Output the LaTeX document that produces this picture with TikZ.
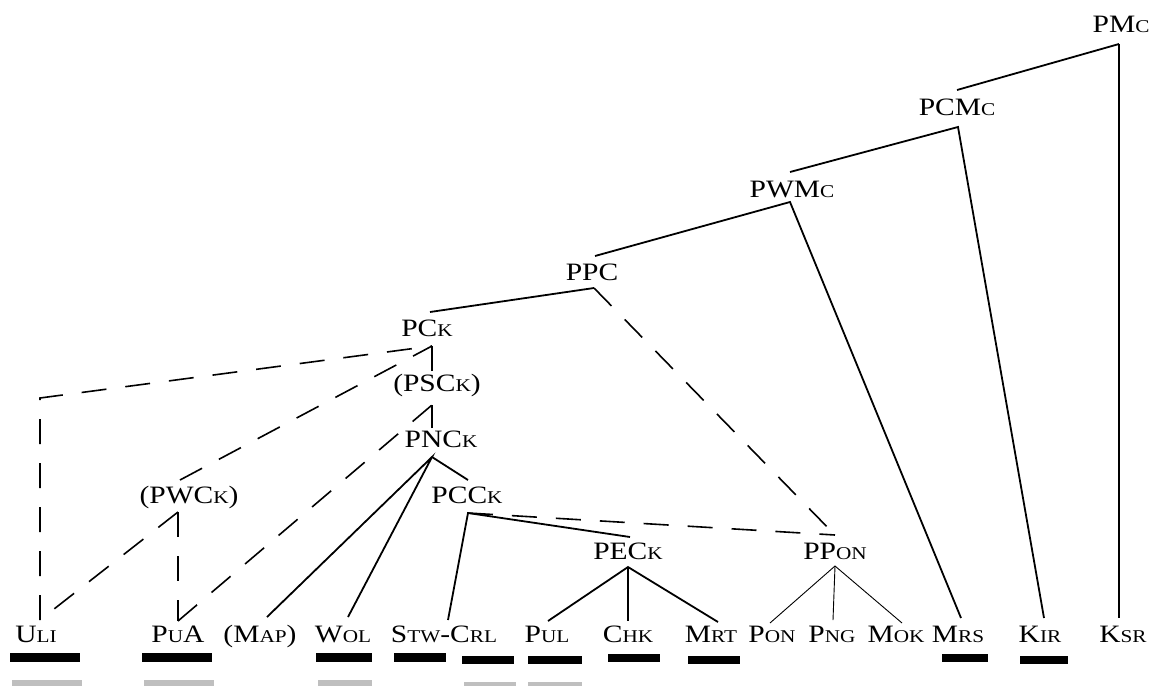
\documentclass[tikz,border=0pt]{standalone}
\usepackage{fontspec}
\setmainfont[FakeStretch=1.18]{Liberation Serif}
% small capitals built from a reduced upper-case size
\newcommand\smc[1]{{\fontsize{18}{18}\selectfont #1}}
\begin{document}
\begin{tikzpicture}[x=1pt,y=-1pt,
  lbl/.style={anchor=base, inner sep=0pt, font=\fontsize{25}{25}\selectfont},
  edge/.style={line width=1.8pt},
  thinedge/.style={line width=0.9pt},
  dashedge/.style={line width=1.6pt, dash pattern=on 25pt off 19pt},
  blackbar/.style={fill=black},
  greybar/.style={fill=black!25}]
\useasboundingbox (0,0) rectangle (1161,686);

% inner nodes
\node[lbl] (PMc)  at (1121,32)  {PM\smc{C}};
\node[lbl] (PCMc) at (957,115)  {PCM\smc{C}};
\node[lbl] (PWMc) at (792,197)  {PWM\smc{C}};
\node[lbl] (PPC)  at (592,280)  {PPC};
\node[lbl] (PCk)  at (427,336)  {PC\smc{K}};
\node[lbl] (PSCk) at (437,391)  {(PSC\smc{K})};
\node[lbl] (PNCk) at (441,447)  {PNC\smc{K}};
\node[lbl] (PWCk) at (189,503)  {(PWC\smc{K})};
\node[lbl] (PCCk) at (467,503)  {PCC\smc{K}};
\node[lbl] (PECk) at (628,559)  {PEC\smc{K}};
\node[lbl] (PPon) at (835,559)  {PP\smc{ON}};

% languages
\node[lbl] (Uli) at (36,642)   {U\smc{LI}};
\node[lbl] (PuA) at (178,642)  {P\smc{U}A};
\node[lbl] (Map) at (260,642)  {(M\smc{AP})};
\node[lbl] (Wol) at (343,642)  {W\smc{OL}};
\node[lbl] (Stw) at (444,642)  {S\smc{TW}-C\smc{RL}};
\node[lbl] (Pul) at (547,642)  {P\smc{UL}};
\node[lbl] (Chk) at (628,642)  {C\smc{HK}};
\node[lbl] (Mrt) at (711,642)  {M\smc{RT}};
\node[lbl] (Pon) at (772,642)  {P\smc{ON}};
\node[lbl] (Png) at (832,642)  {P\smc{NG}};
\node[lbl] (Mok) at (896,642)  {M\smc{OK}};
\node[lbl] (Mrs) at (958,642)  {M\smc{RS}};
\node[lbl] (Kir) at (1040,642) {K\smc{IR}};
\node[lbl] (Ksr) at (1123,642) {K\smc{SR}};

% attachment points above and below the labels
\coordinate (PMc-b)  at (1119,44);
\coordinate (PCMc-t) at (957,90);
\coordinate (PCMc-b) at (958,127);
\coordinate (PWMc-t) at (790,172);
\coordinate (PWMc-b) at (790,202);
\coordinate (PPC-t)  at (595,256);
\coordinate (PPC-b)  at (594,288);
\coordinate (PCk-t)  at (430,312);
\coordinate (PCk-b)  at (432,346);
\coordinate (PSCk-t) at (432,371);
\coordinate (PSCk-b) at (432,405);
\coordinate (PNCk-t) at (432,428);
\coordinate (PNCk-b) at (432,457);
\coordinate (PCCk-t) at (468,480);
\coordinate (PCCk-b) at (468,513);
\coordinate (PECk-t) at (630,537);
\coordinate (PECk-b) at (628,567);
\coordinate (PPon-t) at (835,535);
\coordinate (PPon-b) at (835,566);
\coordinate (PWCk-t) at (180,480);
\coordinate (PWCk-b) at (178,512);
\coordinate (Uli-k)  at (40,398);

\coordinate (Uli-t) at (40,620);
\coordinate (PuA-t) at (178,621);
\coordinate (Map-t) at (267,617);
\coordinate (Wol-t) at (348,617);
\coordinate (Stw-t) at (448,620);
\coordinate (Pul-t) at (548,621);
\coordinate (Chk-t) at (628,621);
\coordinate (Mrt-t) at (718,622);
\coordinate (Pon-t) at (770,623);
\coordinate (Png-t) at (833,620);
\coordinate (Mok-t) at (902,623);
\coordinate (Mrs-t) at (961,618);
\coordinate (Kir-t) at (1044,618);
\coordinate (Ksr-t) at (1119,618);

% solid branches
\draw[edge] (PCMc-t) -- (PMc-b);
\draw[line width=1.1pt] (PMc-b) -- (Ksr-t);
\draw[edge] (PWMc-t) -- (PCMc-b) -- (Kir-t);
\draw[edge] (PPC-t) -- (PWMc-b) -- (Mrs-t);
\draw[edge] (PCk-t) -- (PPC-b);
\draw[line width=1.3pt] (PSCk-t) -- (PCk-b);
\draw[line width=1.3pt] (PNCk-t) -- (PSCk-b);
\draw[edge] (Map-t) -- (PNCk-b) -- (Wol-t);
\draw[edge] (PNCk-b) -- (PCCk-t);
\draw[edge] (Stw-t) -- (PCCk-b) -- (PECk-t);
\draw[edge] (Pul-t) -- (PECk-b) -- (Mrt-t);
\draw[edge] (PECk-b) -- (Chk-t);
\draw[thinedge] (Pon-t) -- (PPon-b) -- (Mok-t);
\draw[thinedge] (PPon-b) -- (Png-t);

% dashed links
\draw[dashedge] (Uli-t) -- (Uli-k) -- (PCk-b);
\draw[dashedge] (PWCk-t) -- (PCk-b);
\draw[dashedge] (PWCk-b) -- (Uli-t);
\draw[dashedge] (PWCk-b) -- (PuA-t);
\draw[dashedge] (PuA-t) -- (PSCk-b);
\draw[dashedge] (PPC-b) -- (PPon-t);
\draw[dashedge] (PCCk-b) -- (PPon-t);

% bars under the languages
\fill[blackbar] (10,653) rectangle (80,662);
\fill[blackbar] (142,653) rectangle (212,662);
\fill[blackbar] (316,653) rectangle (372,662);
\fill[blackbar] (394,653) rectangle (446,662);
\fill[blackbar] (462,656) rectangle (514,664);
\fill[blackbar] (528,656) rectangle (582,664);
\fill[blackbar] (608,654) rectangle (660,662);
\fill[blackbar] (688,656) rectangle (740,664);
\fill[blackbar] (942,654) rectangle (988,662);
\fill[blackbar] (1020,656) rectangle (1068,664);

\fill[greybar] (12,680) rectangle (82,686);
\fill[greybar] (144,680) rectangle (214,686);
\fill[greybar] (318,680) rectangle (372,686);
\fill[greybar] (464,682) rectangle (516,686);
\fill[greybar] (528,682) rectangle (582,686);
\end{tikzpicture}
\end{document}
